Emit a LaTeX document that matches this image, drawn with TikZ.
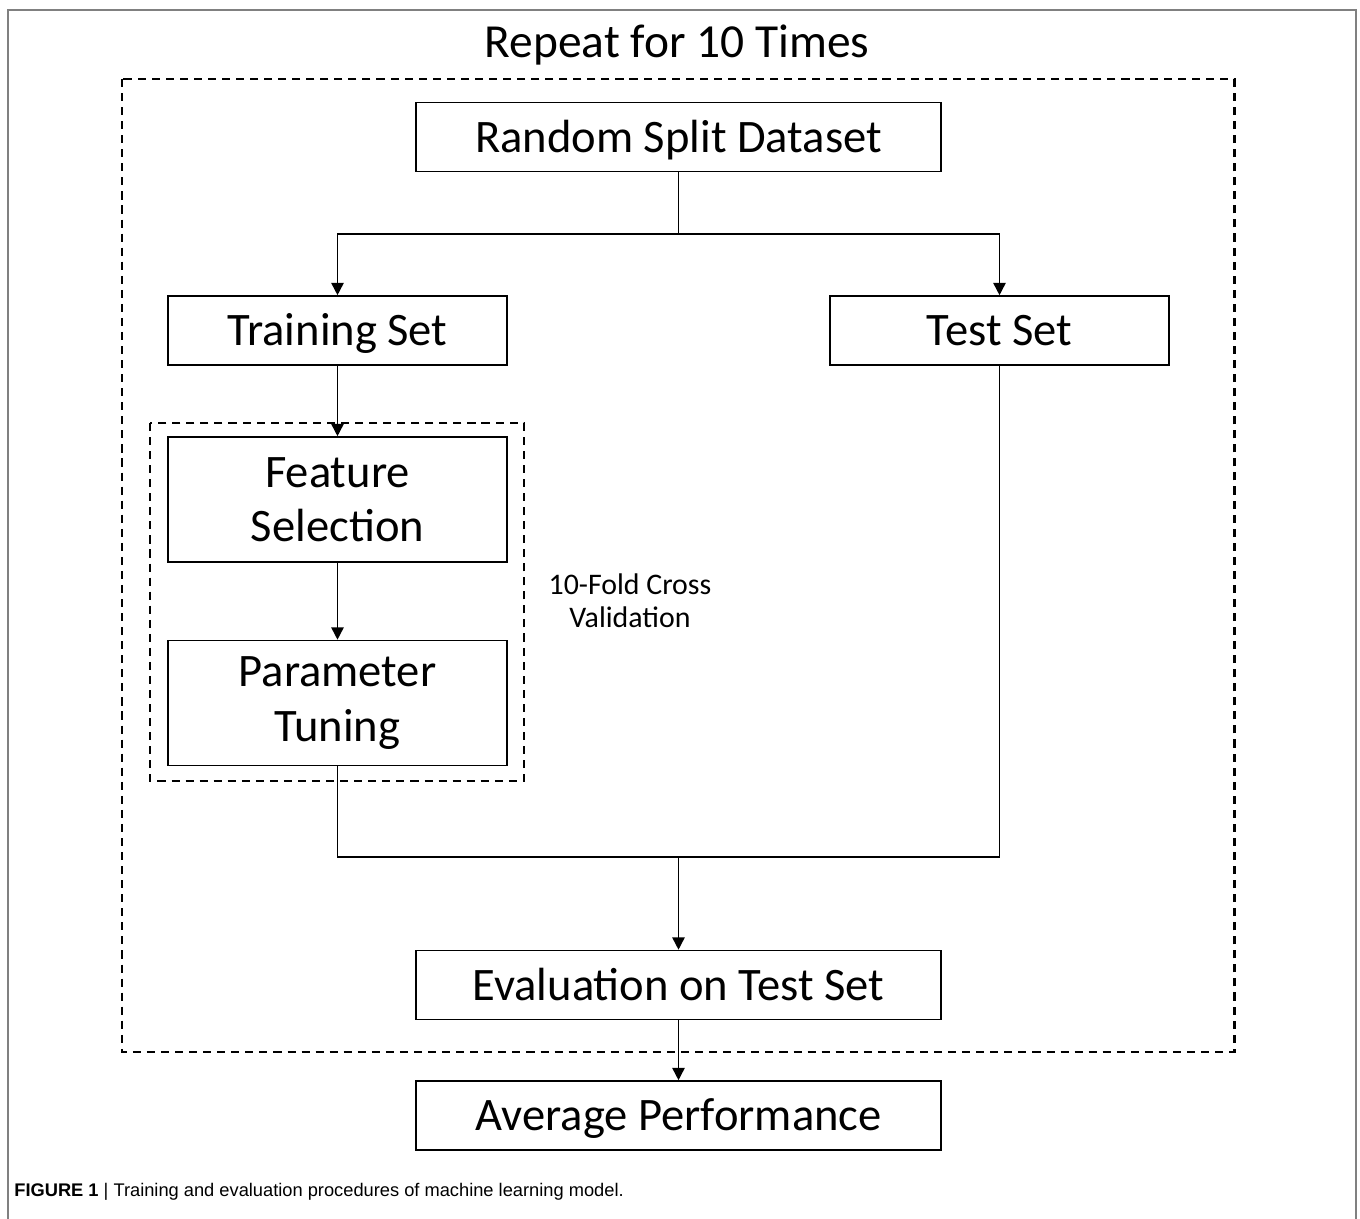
\documentclass[tikz,border=0pt]{standalone}
\usepackage{fontspec}
\setmainfont{Carlito}
\newfontfamily\capfont{Liberation Sans}
\usetikzlibrary{arrows.meta,positioning}

\tikzset{
  boxbase/.style={draw,line width=0.9pt,minimum width=6.78cm,minimum height=1.38cm,
    inner sep=0pt,align=center,font=\fontsize{26.5}{31}\selectfont},
  stepbox/.style={boxbase,text height=17.1pt,text depth=0pt},
  widebox/.style={stepbox,minimum width=10.5cm},
  tallbox/.style={boxbase,minimum height=2.5cm},
  link/.style={line width=0.9pt,-{Triangle[length=7pt,width=7pt]}},
  loopframe/.style={line width=1.7pt,dash pattern=on 4.6pt off 3.4pt}
}

\begin{document}
\begin{tikzpicture}[x=0.02cm,y=-0.02cm]
	    \useasboundingbox (0,0) rectangle (1360,1219);
	    % page frame
	    \draw[gray,line width=1.1pt] (8,1219) -- (8,10) -- (1356,10) -- (1356,1219);
	    \node (title) at (677,45) {\fontsize{27}{32}\selectfont Repeat for 10 Times};
	    \draw[loopframe] (122,79) rectangle (1234,1052);
	    \draw[loopframe] (150,423) rectangle (524,781);
	    % boxes
	    \node[widebox] (rsd) at (678.5,137) {Random Split Dataset};
	    \node[stepbox] (train) at (337.5,330.5) {Training Set};
	    \node[stepbox] (test) at (999.5,330.5) {Test Set};
	    \node[tallbox] (feat) at (337.5,499.5) {Feature\\Selection};
	    \node[tallbox] (param) at (337.5,703) {Parameter\\Tuning};
	    \node[widebox] (eval) at (678.5,985) {Evaluation on Test Set};
	    \node[widebox] (avg) at (678.5,1115.5) {Average Performance};
	    \node[align=center,font=\fontsize{17}{19}\selectfont] (cv) at (630,601) {10-Fold Cross\\Validation};
	    % connectors
	    \coordinate (split) at (678.5,234);
	    \coordinate (merge) at (678.5,857);
	    \draw[line width=0.9pt] (rsd.south) -- (split);
	    \draw[link] (split) -| (train.north);
	    \draw[link] (split) -| (test.north);
	    \draw[link] (train.south) -- (feat.north);
	    \draw[link] (feat.south) -- (param.north);
	    \draw[line width=0.9pt] (param.south) |- (merge);
	    \draw[line width=0.9pt] (test.south) |- (merge);
	    \draw[link] (merge) -- (eval.north);
	    \draw[link] (eval.south) -- (avg.north);
	    % caption
	    \node[anchor=base west,inner sep=0pt,font=\capfont\fontsize{10.4}{12}\selectfont] (cap) at (14,1196)
	      {\textbf{FIGURE 1} | Training and evaluation procedures of machine learning model.};
	\end{tikzpicture}
\end{document}
